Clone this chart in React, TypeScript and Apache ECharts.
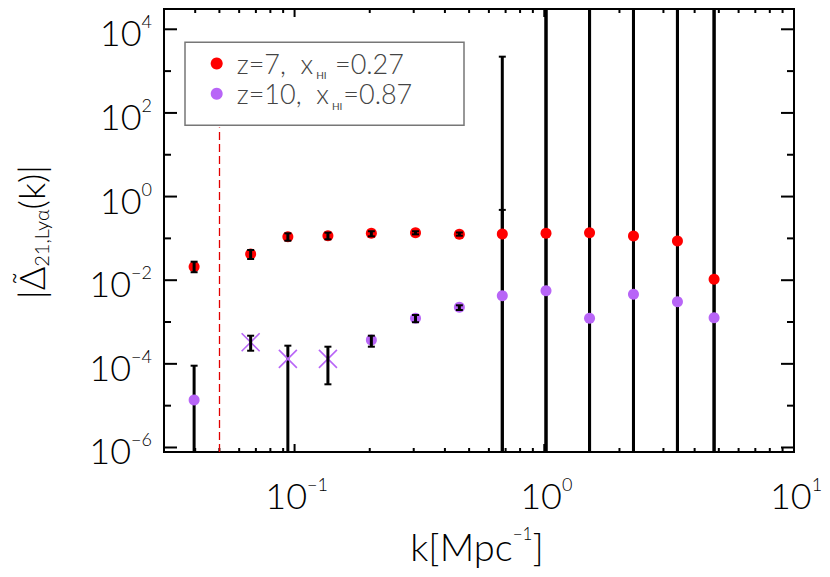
import React, { useEffect, useRef } from 'react';
import * as echarts from 'echarts';

const FONT = 'Lato, "DejaVu Sans", sans-serif';
const WEIGHT = 300;

// k bins [Mpc^-1]
const kValues = [0.0396, 0.0667, 0.094, 0.136, 0.203, 0.305, 0.457, 0.679, 1.016, 1.518, 2.276, 3.414, 4.786];

// z=7, x_HI=0.27
const z7Values = [0.021, 0.0424, 0.11, 0.116, 0.1325, 0.1368, 0.1253, 0.1274, 0.1325, 0.1368, 0.1141, 0.0867, 0.01052];
const z7Low = [0.0155, 0.0321, 0.088, 0.095, 0.112, 0.125, 0.116, 1e-9, 1e-9, 1e-9, 1e-9, 1e-9, 1e-9];
const z7High = [0.0277, 0.0528, 0.132, 0.137, 0.148, 0.148, 0.138, 0.48, 1e8, 1e8, 1e8, 1e8, 1e8];

// z=10, x_HI=0.87 (negative values drawn as crosses, |value|)
const z10Values = [1.37e-5, -3.28e-4, -1.31e-4, -1.31e-4, 3.72e-4, 1.227e-3, 2.25e-3, 4.26e-3, 5.61e-3, 1.227e-3, 4.6e-3, 3.06e-3, 1.27e-3];
const z10Low = [1e-9, 2.06e-4, 1e-9, 3.24e-5, 2.57e-4, 9.9e-4, 1.94e-3, 1e-9, 1e-9, 1e-9, 1e-9, 1e-9, 1e-9];
const z10High = [9.03e-5, 4.71e-4, 2.72e-4, 2.57e-4, 4.71e-4, 1.47e-3, 2.51e-3, 2213, 1e8, 1e8, 1e8, 1e8, 1e8];

const X_MIN = 0.03;
const X_MAX = 10;
const Y_MIN = Math.pow(10, -6.108);
const Y_MAX = Math.pow(10, 4.485);

const xMajorTicks = [0.1, 1, 10];
const xMinorTicks = [0.04, 0.05, 0.06, 0.07, 0.08, 0.09, 0.2, 0.3, 0.4, 0.5, 0.6, 0.7, 0.8, 0.9, 2, 3, 4, 5, 6, 7, 8, 9];
const yMajorTicks = [1e-6, 1e-4, 1e-2, 1, 1e2, 1e4];
const yMinorTicks = [1e-5, 1e-3, 1e-1, 1e1, 1e3];
const xTickExponents = ['\u22121', '0', '1'];
const yTickExponents = ['\u22126', '\u22124', '\u22122', '0', '2', '4'];

const cutoffK = 0.05;
const cutoffTop = 45;

const legendNames = ['z7', 'z10'];
const legendTexts = ['{t|z=7,  x}{h|HI}{t| =0.27}', '{t|z=10,  x}{h|HI}{t|=0.87}'];

const RED = '#ff0000';
const PURPLE = '#b865f7';

const tickRich = {
  b: { fontSize: 36, lineHeight: 40, fontFamily: FONT, fontWeight: WEIGHT, fill: '#000' },
  s: { fontSize: 18, lineHeight: 28, verticalAlign: 'top', fontFamily: FONT, fontWeight: WEIGHT, fill: '#000' },
};

function buildOption() {
  const allErr: number[][] = [
    ...kValues.map((k, i) => [k, z7Values[i], z7Low[i], z7High[i]]),
    ...kValues.map((k, i) => [k, Math.abs(z10Values[i]), z10Low[i], z10High[i]]),
  ];
  const inside = (d: number[]) => d[2] >= Y_MIN && d[3] <= Y_MAX;
  const errOver = allErr.filter(inside);
  const errUnder = allErr.filter((d) => !inside(d));

  const renderErr = (params: any, api: any) => {
    const cs = params.coordSys;
    const k = api.value(0);
    const lo = api.value(2);
    const hi = api.value(3);
    const x = api.coord([k, Y_MIN])[0];
    const yLo = lo >= Y_MIN ? api.coord([k, lo])[1] : cs.y + cs.height;
    const yHi = hi <= Y_MAX ? api.coord([k, hi])[1] : cs.y;
    const children: any[] = [
      { type: 'line', shape: { x1: x, y1: yLo, x2: x, y2: yHi }, style: { stroke: '#000', lineWidth: 3 } },
    ];
    if (lo >= Y_MIN) children.push({ type: 'line', shape: { x1: x - 3.5, y1: yLo, x2: x + 3.5, y2: yLo }, style: { stroke: '#000', lineWidth: 2 } });
    if (hi <= Y_MAX) children.push({ type: 'line', shape: { x1: x - 3.5, y1: yHi, x2: x + 3.5, y2: yHi }, style: { stroke: '#000', lineWidth: 2 } });
    return { type: 'group', children };
  };

  const renderCross = (params: any, api: any) => {
    const p = api.coord([api.value(0), api.value(1)]);
    const r = 9;
    return {
      type: 'group',
      children: [
        { type: 'line', shape: { x1: p[0] - r, y1: p[1] - r, x2: p[0] + r, y2: p[1] + r }, style: { stroke: PURPLE, lineWidth: 1.6 } },
        { type: 'line', shape: { x1: p[0] - r, y1: p[1] + r, x2: p[0] + r, y2: p[1] - r }, style: { stroke: PURPLE, lineWidth: 1.6 } },
      ],
    };
  };

  const xTickData = [...xMajorTicks.map((v) => [v, Y_MIN, 1]), ...xMinorTicks.map((v) => [v, Y_MIN, 0])];
  const yTickData = [...yMajorTicks.map((v) => [X_MIN, v, 1]), ...yMinorTicks.map((v) => [X_MIN, v, 0])];

  const renderXTick = (params: any, api: any) => {
    const cs = params.coordSys;
    const x = api.coord([api.value(0), Y_MIN])[0];
    const len = api.value(2) === 1 ? 8 : 4;
    const b = cs.y + cs.height;
    return {
      type: 'group',
      children: [
        { type: 'line', shape: { x1: x, y1: b, x2: x, y2: b - len }, style: { stroke: '#000', lineWidth: 2 } },
        { type: 'line', shape: { x1: x, y1: cs.y, x2: x, y2: cs.y + len }, style: { stroke: '#000', lineWidth: 2 } },
      ],
    };
  };
  const renderYTick = (params: any, api: any) => {
    const cs = params.coordSys;
    const y = api.coord([X_MIN, api.value(1)])[1];
    const len = api.value(2) === 1 ? 13 : 7;
    const r = cs.x + cs.width;
    return {
      type: 'group',
      children: [
        { type: 'line', shape: { x1: cs.x, y1: y, x2: cs.x + len, y2: y }, style: { stroke: '#000', lineWidth: 2 } },
        { type: 'line', shape: { x1: r, y1: y, x2: r - len, y2: y }, style: { stroke: '#000', lineWidth: 2 } },
      ],
    };
  };

  const xLabelData = xMajorTicks.map((v, i) => [v, Y_MIN, i]);
  const yLabelData = yMajorTicks.map((v, i) => [X_MIN, v, i]);
  const renderXLabel = (params: any, api: any) => {
    const cs = params.coordSys;
    const x = api.coord([api.value(0), Y_MIN])[0];
    return {
      type: 'text',
      x: x + 2,
      y: cs.y + cs.height + 43,
      style: { text: `{b|10}{s|${xTickExponents[api.value(2)]}}`, rich: tickRich, align: 'center', verticalAlign: 'middle', fill: '#000' },
    };
  };
  const renderYLabel = (params: any, api: any) => {
    const cs = params.coordSys;
    const y = api.coord([X_MIN, api.value(1)])[1];
    return {
      type: 'text',
      x: cs.x - 12,
      y: y + 3,
      style: { text: `{b|10}{s|${yTickExponents[api.value(2)]}}`, rich: tickRich, align: 'right', verticalAlign: 'middle', fill: '#000' },
    };
  };

  const z10Dots = kValues.map((k, i) => [k, z10Values[i]]).filter((d) => d[1] > 0);
  const z10Crosses = kValues.map((k, i) => [k, -z10Values[i]]).filter((d) => d[1] > 0);

  const axisCommon = {
    type: 'log' as const,
    logBase: 10,
    axisLine: { show: false },
    axisTick: { show: false },
    axisLabel: { show: false },
    splitLine: { show: false },
  };

  return {
    animation: false,
    backgroundColor: '#fff',
    grid: { left: 164, top: 9, right: 36, bottom: 125, show: true, borderColor: '#000', borderWidth: 2, backgroundColor: 'transparent' },
    xAxis: { ...axisCommon, min: X_MIN, max: X_MAX },
    yAxis: { ...axisCommon, min: Y_MIN, max: Y_MAX },
    legend: {
      data: [
        { name: legendNames[0], icon: 'circle' },
        { name: legendNames[1], icon: 'circle' },
      ],
      orient: 'vertical',
      left: 210.7,
      top: 50,
      itemGap: 0,
      itemWidth: 30,
      itemHeight: 12,
      padding: 0,
      z: 20,
      selectedMode: false,
      formatter: (name: string) => legendTexts[legendNames.indexOf(name)],
      textStyle: {
        color: '#444',
        rich: {
          t: { fontSize: 27, lineHeight: 33.5, color: '#444', fontFamily: FONT, fontWeight: WEIGHT },
          h: { fontSize: 10, lineHeight: 25, verticalAlign: 'bottom', padding: [0, 1, 0, 3], color: '#444', fontFamily: FONT, fontWeight: 400 },
        },
      },
    },
    graphic: [
      {
        type: 'rect',
        z: 10,
        shape: { x: 185, y: 42.3, width: 279, height: 83 },
        style: { fill: '#fff', stroke: '#777', lineWidth: 1.5 },
      },
      {
        type: 'text',
        x: 31,
        y: 232,
        rotation: Math.PI / 2,
        style: {
          text: '{b|\u007c\u0394\u0303}{s|21,Ly\u03b1}{b|(k)\u007c}',
          align: 'center',
          verticalAlign: 'middle',
          rich: {
            b: { fontSize: 36, lineHeight: 40, fontFamily: FONT, fontWeight: WEIGHT, fill: '#000' },
            s: { fontSize: 20, lineHeight: 24, verticalAlign: 'bottom', fontFamily: FONT, fontWeight: WEIGHT, fill: '#000' },
          },
        },
      },
      {
        type: 'text',
        x: 477,
        y: 546,
        style: {
          text: '{b|k[Mpc}{s|\u22121}{b|]}',
          align: 'center',
          verticalAlign: 'middle',
          rich: {
            b: { fontSize: 38, lineHeight: 42, fontFamily: FONT, fontWeight: WEIGHT, fill: '#000' },
            s: { fontSize: 17, lineHeight: 28, verticalAlign: 'top', fontFamily: FONT, fontWeight: WEIGHT, fill: '#000' },
          },
        },
      },
    ],
    series: [
      { type: 'custom', name: 'errUnder', coordinateSystem: 'cartesian2d', encode: { x: 0, y: 1 }, data: errUnder, renderItem: renderErr, z: 1, silent: true },
      {
        type: 'scatter',
        name: legendNames[0],
        data: kValues.map((k, i) => [k, z7Values[i]]),
        symbol: 'circle',
        symbolSize: 11,
        itemStyle: { color: RED, opacity: 1 },
        z: 2,
        markLine: {
          silent: true,
          symbol: ['none', 'none'],
          label: { show: false },
          lineStyle: { color: '#e00000', width: 1.3, type: [8, 4], opacity: 1 },
          data: [[{ coord: [cutoffK, Y_MIN] }, { coord: [cutoffK, cutoffTop] }]],
        },
      },
      { type: 'scatter', name: legendNames[1], data: z10Dots, symbol: 'circle', symbolSize: 11, itemStyle: { color: PURPLE, opacity: 1 }, z: 2 },
      { type: 'custom', name: 'crosses', coordinateSystem: 'cartesian2d', encode: { x: 0, y: 1 }, data: z10Crosses, renderItem: renderCross, z: 2, silent: true },
      { type: 'custom', name: 'errOver', coordinateSystem: 'cartesian2d', encode: { x: 0, y: 1 }, data: errOver, renderItem: renderErr, z: 3, silent: true },
      { type: 'custom', name: 'xticks', coordinateSystem: 'cartesian2d', encode: { x: 0, y: 1 }, data: xTickData, renderItem: renderXTick, z: 4, silent: true },
      { type: 'custom', name: 'yticks', coordinateSystem: 'cartesian2d', encode: { x: 0, y: 1 }, data: yTickData, renderItem: renderYTick, z: 4, silent: true },
      { type: 'custom', name: 'xlabels', coordinateSystem: 'cartesian2d', encode: { x: 0, y: 1 }, data: xLabelData, renderItem: renderXLabel, z: 4, silent: true },
      { type: 'custom', name: 'ylabels', coordinateSystem: 'cartesian2d', encode: { x: 0, y: 1 }, data: yLabelData, renderItem: renderYLabel, z: 4, silent: true },
    ],
  };
}

export default function App() {
  const ref = useRef<HTMLDivElement>(null);
  useEffect(() => {
    if (!ref.current) return;
    const chart = echarts.init(ref.current, null, { renderer: 'svg' });
    chart.setOption(buildOption() as any);
    return () => chart.dispose();
  }, []);
  return <div ref={ref} style={{ position: 'fixed', left: 0, top: 0, width: 830, height: 577, background: '#fff' }} />;
}
